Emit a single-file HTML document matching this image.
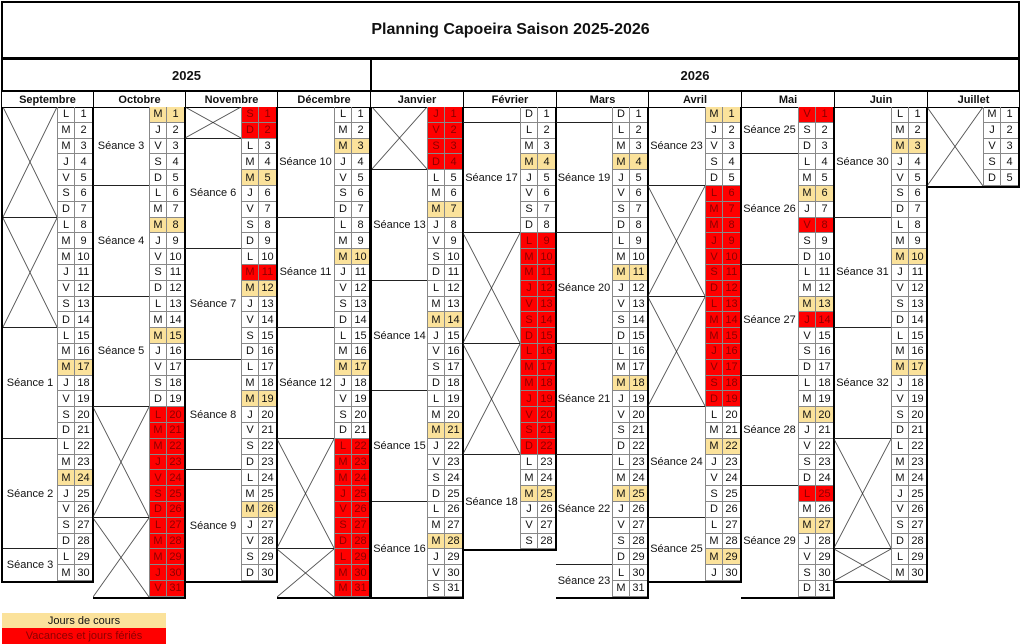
<!DOCTYPE html>
<html><head><meta charset="utf-8"><style>
body{margin:0;width:1024px;height:644px;background:#fff;position:relative;overflow:hidden;font-family:"Liberation Sans",sans-serif;color:#111}
.a{position:absolute;box-sizing:border-box}
.t{left:1px;top:1px;width:1019px;height:58px;border:2px solid #000;font-weight:bold;font-size:16px;display:flex;align-items:center;justify-content:center}
.yr{top:58px;height:34px;border:2px solid #000;font-weight:bold;font-size:13px;display:flex;align-items:center;justify-content:center}
.mh{top:91px;height:17px;border:1px solid #000;font-weight:bold;font-size:11px;display:flex;align-items:center;justify-content:center}
.m{top:107px;--h:15.8px;border-right:2px solid #000;border-bottom:2px solid #000}
.d{position:absolute;right:0;top:0;width:35px}
.d p{margin:0;height:var(--h);display:flex;box-sizing:border-box}
.d b{font-weight:normal;font-size:11px;box-sizing:border-box;height:100%;border-bottom:1px solid #888;border-left:1px solid #888;display:flex;align-items:center;justify-content:center;width:18px}
.d b:first-child{width:17px}
.d p.y b{background:#fbe29b}
.d p.r b{background:#f00;color:#8b0000}
.g{position:absolute;left:0;right:35px;box-sizing:border-box;border-bottom:1px solid #222;display:flex;align-items:center;justify-content:center;font-size:11px}
.x{background:linear-gradient(to top right,transparent calc(50% - 0.7px),#222 50%,transparent calc(50% + 0.7px)),linear-gradient(to bottom right,transparent calc(50% - 0.7px),#222 50%,transparent calc(50% + 0.7px))}
.lg{left:2px;width:164px;height:16px;font-size:11px;display:flex;align-items:center;justify-content:center}
</style></head><body>
<div class="a t">Planning Capoeira Saison 2025-2026</div>
<div class="a yr" style="left:1px;width:371px">2025</div>
<div class="a yr" style="left:370px;width:650px">2026</div>
<div class="a mh" style="left:1px;width:93px">Septembre</div>
<div class="a mh" style="left:93px;width:93px">Octobre</div>
<div class="a mh" style="left:185px;width:93px">Novembre</div>
<div class="a mh" style="left:277px;width:94px">Décembre</div>
<div class="a mh" style="left:370px;width:94px">Janvier</div>
<div class="a mh" style="left:463px;width:94px">Février</div>
<div class="a mh" style="left:556px;width:93px">Mars</div>
<div class="a mh" style="left:648px;width:94px">Avril</div>
<div class="a mh" style="left:741px;width:94px">Mai</div>
<div class="a mh" style="left:834px;width:94px">Juin</div>
<div class="a mh" style="left:927px;width:93px">Juillet</div>

<!-- Septembre -->
<div class="a m" style="left:1px;width:93px;height:calc(30*15.8px + 2px);border-left:2px solid #000">
<div class="g x" style="top:0;height:calc(7*var(--h))"></div>
<div class="g x" style="top:calc(7*var(--h));height:calc(7*var(--h))"></div>
<div class="g" style="top:calc(14*var(--h));height:calc(7*var(--h))">Séance 1</div>
<div class="g" style="top:calc(21*var(--h));height:calc(7*var(--h))">Séance 2</div>
<div class="g" style="top:calc(28*var(--h));height:calc(2*var(--h));border:0">Séance 3</div>
<div class="d">
<p><b>L</b><b>1</b></p><p><b>M</b><b>2</b></p><p><b>M</b><b>3</b></p><p><b>J</b><b>4</b></p><p><b>V</b><b>5</b></p><p><b>S</b><b>6</b></p><p><b>D</b><b>7</b></p>
<p><b>L</b><b>8</b></p><p><b>M</b><b>9</b></p><p><b>M</b><b>10</b></p><p><b>J</b><b>11</b></p><p><b>V</b><b>12</b></p><p><b>S</b><b>13</b></p><p><b>D</b><b>14</b></p>
<p><b>L</b><b>15</b></p><p><b>M</b><b>16</b></p><p class="y"><b>M</b><b>17</b></p><p><b>J</b><b>18</b></p><p><b>V</b><b>19</b></p><p><b>S</b><b>20</b></p><p><b>D</b><b>21</b></p>
<p><b>L</b><b>22</b></p><p><b>M</b><b>23</b></p><p class="y"><b>M</b><b>24</b></p><p><b>J</b><b>25</b></p><p><b>V</b><b>26</b></p><p><b>S</b><b>27</b></p><p><b>D</b><b>28</b></p>
<p><b>L</b><b>29</b></p><p><b>M</b><b>30</b></p>
</div></div>

<!-- Octobre -->
<div class="a m" style="left:93px;width:93px;height:calc(31*15.8px + 2px)">
<div class="g" style="top:0;height:calc(5*var(--h))">Séance 3</div>
<div class="g" style="top:calc(5*var(--h));height:calc(7*var(--h))">Séance 4</div>
<div class="g" style="top:calc(12*var(--h));height:calc(7*var(--h))">Séance 5</div>
<div class="g x" style="top:calc(19*var(--h));height:calc(7*var(--h))"></div>
<div class="g x" style="top:calc(26*var(--h));height:calc(5*var(--h));border:0"></div>
<div class="d">
<p class="y"><b>M</b><b>1</b></p><p><b>J</b><b>2</b></p><p><b>V</b><b>3</b></p><p><b>S</b><b>4</b></p><p><b>D</b><b>5</b></p>
<p><b>L</b><b>6</b></p><p><b>M</b><b>7</b></p><p class="y"><b>M</b><b>8</b></p><p><b>J</b><b>9</b></p><p><b>V</b><b>10</b></p><p><b>S</b><b>11</b></p><p><b>D</b><b>12</b></p>
<p><b>L</b><b>13</b></p><p><b>M</b><b>14</b></p><p class="y"><b>M</b><b>15</b></p><p><b>J</b><b>16</b></p><p><b>V</b><b>17</b></p><p><b>S</b><b>18</b></p><p><b>D</b><b>19</b></p>
<p class="r"><b>L</b><b>20</b></p><p class="r"><b>M</b><b>21</b></p><p class="r"><b>M</b><b>22</b></p><p class="r"><b>J</b><b>23</b></p><p class="r"><b>V</b><b>24</b></p><p class="r"><b>S</b><b>25</b></p><p class="r"><b>D</b><b>26</b></p>
<p class="r"><b>L</b><b>27</b></p><p class="r"><b>M</b><b>28</b></p><p class="r"><b>M</b><b>29</b></p><p class="r"><b>J</b><b>30</b></p><p class="r"><b>V</b><b>31</b></p>
</div></div>

<!-- Novembre -->
<div class="a m" style="left:185px;width:93px;height:calc(30*15.8px + 2px)">
<div class="g x" style="top:0;height:calc(2*var(--h))"></div>
<div class="g" style="top:calc(2*var(--h));height:calc(7*var(--h))">Séance 6</div>
<div class="g" style="top:calc(9*var(--h));height:calc(7*var(--h))">Séance 7</div>
<div class="g" style="top:calc(16*var(--h));height:calc(7*var(--h))">Séance 8</div>
<div class="g" style="top:calc(23*var(--h));height:calc(7*var(--h));border:0">Séance 9</div>
<div class="d">
<p class="r"><b>S</b><b>1</b></p><p class="r"><b>D</b><b>2</b></p>
<p><b>L</b><b>3</b></p><p><b>M</b><b>4</b></p><p class="y"><b>M</b><b>5</b></p><p><b>J</b><b>6</b></p><p><b>V</b><b>7</b></p><p><b>S</b><b>8</b></p><p><b>D</b><b>9</b></p>
<p><b>L</b><b>10</b></p><p class="r"><b>M</b><b>11</b></p><p class="y"><b>M</b><b>12</b></p><p><b>J</b><b>13</b></p><p><b>V</b><b>14</b></p><p><b>S</b><b>15</b></p><p><b>D</b><b>16</b></p>
<p><b>L</b><b>17</b></p><p><b>M</b><b>18</b></p><p class="y"><b>M</b><b>19</b></p><p><b>J</b><b>20</b></p><p><b>V</b><b>21</b></p><p><b>S</b><b>22</b></p><p><b>D</b><b>23</b></p>
<p><b>L</b><b>24</b></p><p><b>M</b><b>25</b></p><p class="y"><b>M</b><b>26</b></p><p><b>J</b><b>27</b></p><p><b>V</b><b>28</b></p><p><b>S</b><b>29</b></p><p><b>D</b><b>30</b></p>
</div></div>

<!-- Décembre -->
<div class="a m" style="left:277px;width:94px;height:calc(31*15.8px + 2px)">
<div class="g" style="top:0;height:calc(7*var(--h))">Séance 10</div>
<div class="g" style="top:calc(7*var(--h));height:calc(7*var(--h))">Séance 11</div>
<div class="g" style="top:calc(14*var(--h));height:calc(7*var(--h))">Séance 12</div>
<div class="g x" style="top:calc(21*var(--h));height:calc(7*var(--h))"></div>
<div class="g x" style="top:calc(28*var(--h));height:calc(3*var(--h));border:0"></div>
<div class="d">
<p><b>L</b><b>1</b></p><p><b>M</b><b>2</b></p><p class="y"><b>M</b><b>3</b></p><p><b>J</b><b>4</b></p><p><b>V</b><b>5</b></p><p><b>S</b><b>6</b></p><p><b>D</b><b>7</b></p>
<p><b>L</b><b>8</b></p><p><b>M</b><b>9</b></p><p class="y"><b>M</b><b>10</b></p><p><b>J</b><b>11</b></p><p><b>V</b><b>12</b></p><p><b>S</b><b>13</b></p><p><b>D</b><b>14</b></p>
<p><b>L</b><b>15</b></p><p><b>M</b><b>16</b></p><p class="y"><b>M</b><b>17</b></p><p><b>J</b><b>18</b></p><p><b>V</b><b>19</b></p><p><b>S</b><b>20</b></p><p><b>D</b><b>21</b></p>
<p class="r"><b>L</b><b>22</b></p><p class="r"><b>M</b><b>23</b></p><p class="r"><b>M</b><b>24</b></p><p class="r"><b>J</b><b>25</b></p><p class="r"><b>V</b><b>26</b></p><p class="r"><b>S</b><b>27</b></p><p class="r"><b>D</b><b>28</b></p>
<p class="r"><b>L</b><b>29</b></p><p class="r"><b>M</b><b>30</b></p><p class="r"><b>M</b><b>31</b></p>
</div></div>

<!-- Janvier -->
<div class="a m" style="left:370px;width:94px;height:calc(31*15.8px + 2px);border-left:2px solid #000">
<div class="g x" style="top:0;height:calc(4*var(--h))"></div>
<div class="g" style="top:calc(4*var(--h));height:calc(7*var(--h))">Séance 13</div>
<div class="g" style="top:calc(11*var(--h));height:calc(7*var(--h))">Séance 14</div>
<div class="g" style="top:calc(18*var(--h));height:calc(7*var(--h))">Séance 15</div>
<div class="g" style="top:calc(25*var(--h));height:calc(6*var(--h));border:0">Séance 16</div>
<div class="d">
<p class="r"><b>J</b><b>1</b></p><p class="r"><b>V</b><b>2</b></p><p class="r"><b>S</b><b>3</b></p><p class="r"><b>D</b><b>4</b></p>
<p><b>L</b><b>5</b></p><p><b>M</b><b>6</b></p><p class="y"><b>M</b><b>7</b></p><p><b>J</b><b>8</b></p><p><b>V</b><b>9</b></p><p><b>S</b><b>10</b></p><p><b>D</b><b>11</b></p>
<p><b>L</b><b>12</b></p><p><b>M</b><b>13</b></p><p class="y"><b>M</b><b>14</b></p><p><b>J</b><b>15</b></p><p><b>V</b><b>16</b></p><p><b>S</b><b>17</b></p><p><b>D</b><b>18</b></p>
<p><b>L</b><b>19</b></p><p><b>M</b><b>20</b></p><p class="y"><b>M</b><b>21</b></p><p><b>J</b><b>22</b></p><p><b>V</b><b>23</b></p><p><b>S</b><b>24</b></p><p><b>D</b><b>25</b></p>
<p><b>L</b><b>26</b></p><p><b>M</b><b>27</b></p><p class="y"><b>M</b><b>28</b></p><p><b>J</b><b>29</b></p><p><b>V</b><b>30</b></p><p><b>S</b><b>31</b></p>
</div></div>

<!-- Février -->
<div class="a m" style="left:463px;width:94px;height:calc(28*15.8px + 2px)">
<div class="g" style="top:0;height:calc(1*var(--h))"></div>
<div class="g" style="top:calc(1*var(--h));height:calc(7*var(--h))">Séance 17</div>
<div class="g x" style="top:calc(8*var(--h));height:calc(7*var(--h))"></div>
<div class="g x" style="top:calc(15*var(--h));height:calc(7*var(--h))"></div>
<div class="g" style="top:calc(22*var(--h));height:calc(6*var(--h));border:0">Séance 18</div>
<div class="d">
<p><b>D</b><b>1</b></p>
<p><b>L</b><b>2</b></p><p><b>M</b><b>3</b></p><p class="y"><b>M</b><b>4</b></p><p><b>J</b><b>5</b></p><p><b>V</b><b>6</b></p><p><b>S</b><b>7</b></p><p><b>D</b><b>8</b></p>
<p class="r"><b>L</b><b>9</b></p><p class="r"><b>M</b><b>10</b></p><p class="r"><b>M</b><b>11</b></p><p class="r"><b>J</b><b>12</b></p><p class="r"><b>V</b><b>13</b></p><p class="r"><b>S</b><b>14</b></p><p class="r"><b>D</b><b>15</b></p>
<p class="r"><b>L</b><b>16</b></p><p class="r"><b>M</b><b>17</b></p><p class="r"><b>M</b><b>18</b></p><p class="r"><b>J</b><b>19</b></p><p class="r"><b>V</b><b>20</b></p><p class="r"><b>S</b><b>21</b></p><p class="r"><b>D</b><b>22</b></p>
<p><b>L</b><b>23</b></p><p><b>M</b><b>24</b></p><p class="y"><b>M</b><b>25</b></p><p><b>J</b><b>26</b></p><p><b>V</b><b>27</b></p><p><b>S</b><b>28</b></p>
</div></div>

<!-- Mars -->
<div class="a m" style="left:556px;width:93px;height:calc(31*15.8px + 2px)">
<div class="g" style="top:0;height:calc(1*var(--h))"></div>
<div class="g" style="top:calc(1*var(--h));height:calc(7*var(--h))">Séance 19</div>
<div class="g" style="top:calc(8*var(--h));height:calc(7*var(--h))">Séance 20</div>
<div class="g" style="top:calc(15*var(--h));height:calc(7*var(--h))">Séance 21</div>
<div class="g" style="top:calc(22*var(--h));height:calc(7*var(--h))">Séance 22</div>
<div class="g" style="top:calc(29*var(--h));height:calc(2*var(--h));border:0">Séance 23</div>
<div class="d">
<p><b>D</b><b>1</b></p>
<p><b>L</b><b>2</b></p><p><b>M</b><b>3</b></p><p class="y"><b>M</b><b>4</b></p><p><b>J</b><b>5</b></p><p><b>V</b><b>6</b></p><p><b>S</b><b>7</b></p><p><b>D</b><b>8</b></p>
<p><b>L</b><b>9</b></p><p><b>M</b><b>10</b></p><p class="y"><b>M</b><b>11</b></p><p><b>J</b><b>12</b></p><p><b>V</b><b>13</b></p><p><b>S</b><b>14</b></p><p><b>D</b><b>15</b></p>
<p><b>L</b><b>16</b></p><p><b>M</b><b>17</b></p><p class="y"><b>M</b><b>18</b></p><p><b>J</b><b>19</b></p><p><b>V</b><b>20</b></p><p><b>S</b><b>21</b></p><p><b>D</b><b>22</b></p>
<p><b>L</b><b>23</b></p><p><b>M</b><b>24</b></p><p class="y"><b>M</b><b>25</b></p><p><b>J</b><b>26</b></p><p><b>V</b><b>27</b></p><p><b>S</b><b>28</b></p><p><b>D</b><b>29</b></p>
<p><b>L</b><b>30</b></p><p><b>M</b><b>31</b></p>
</div></div>

<!-- Avril -->
<div class="a m" style="left:648px;width:94px;height:calc(30*15.8px + 2px)">
<div class="g" style="top:0;height:calc(5*var(--h))">Séance 23</div>
<div class="g x" style="top:calc(5*var(--h));height:calc(7*var(--h))"></div>
<div class="g x" style="top:calc(12*var(--h));height:calc(7*var(--h))"></div>
<div class="g" style="top:calc(19*var(--h));height:calc(7*var(--h))">Séance 24</div>
<div class="g" style="top:calc(26*var(--h));height:calc(4*var(--h));border:0">Séance 25</div>
<div class="d">
<p class="y"><b>M</b><b>1</b></p><p><b>J</b><b>2</b></p><p><b>V</b><b>3</b></p><p><b>S</b><b>4</b></p><p><b>D</b><b>5</b></p>
<p class="r"><b>L</b><b>6</b></p><p class="r"><b>M</b><b>7</b></p><p class="r"><b>M</b><b>8</b></p><p class="r"><b>J</b><b>9</b></p><p class="r"><b>V</b><b>10</b></p><p class="r"><b>S</b><b>11</b></p><p class="r"><b>D</b><b>12</b></p>
<p class="r"><b>L</b><b>13</b></p><p class="r"><b>M</b><b>14</b></p><p class="r"><b>M</b><b>15</b></p><p class="r"><b>J</b><b>16</b></p><p class="r"><b>V</b><b>17</b></p><p class="r"><b>S</b><b>18</b></p><p class="r"><b>D</b><b>19</b></p>
<p><b>L</b><b>20</b></p><p><b>M</b><b>21</b></p><p class="y"><b>M</b><b>22</b></p><p><b>J</b><b>23</b></p><p><b>V</b><b>24</b></p><p><b>S</b><b>25</b></p><p><b>D</b><b>26</b></p>
<p><b>L</b><b>27</b></p><p><b>M</b><b>28</b></p><p class="y"><b>M</b><b>29</b></p><p><b>J</b><b>30</b></p>
</div></div>

<!-- Mai -->
<div class="a m" style="left:741px;width:94px;height:calc(31*15.8px + 2px)">
<div class="g" style="top:0;height:calc(3*var(--h))">Séance 25</div>
<div class="g" style="top:calc(3*var(--h));height:calc(7*var(--h))">Séance 26</div>
<div class="g" style="top:calc(10*var(--h));height:calc(7*var(--h))">Séance 27</div>
<div class="g" style="top:calc(17*var(--h));height:calc(7*var(--h))">Séance 28</div>
<div class="g" style="top:calc(24*var(--h));height:calc(7*var(--h));border:0">Séance 29</div>
<div class="d">
<p class="r"><b>V</b><b>1</b></p><p><b>S</b><b>2</b></p><p><b>D</b><b>3</b></p>
<p><b>L</b><b>4</b></p><p><b>M</b><b>5</b></p><p class="y"><b>M</b><b>6</b></p><p><b>J</b><b>7</b></p><p class="r"><b>V</b><b>8</b></p><p><b>S</b><b>9</b></p><p><b>D</b><b>10</b></p>
<p><b>L</b><b>11</b></p><p><b>M</b><b>12</b></p><p class="y"><b>M</b><b>13</b></p><p class="r"><b>J</b><b>14</b></p><p><b>V</b><b>15</b></p><p><b>S</b><b>16</b></p><p><b>D</b><b>17</b></p>
<p><b>L</b><b>18</b></p><p><b>M</b><b>19</b></p><p class="y"><b>M</b><b>20</b></p><p><b>J</b><b>21</b></p><p><b>V</b><b>22</b></p><p><b>S</b><b>23</b></p><p><b>D</b><b>24</b></p>
<p class="r"><b>L</b><b>25</b></p><p><b>M</b><b>26</b></p><p class="y"><b>M</b><b>27</b></p><p><b>J</b><b>28</b></p><p><b>V</b><b>29</b></p><p><b>S</b><b>30</b></p><p><b>D</b><b>31</b></p>
</div></div>

<!-- Juin -->
<div class="a m" style="left:834px;width:94px;height:calc(30*15.8px + 2px)">
<div class="g" style="top:0;height:calc(7*var(--h))">Séance 30</div>
<div class="g" style="top:calc(7*var(--h));height:calc(7*var(--h))">Séance 31</div>
<div class="g" style="top:calc(14*var(--h));height:calc(7*var(--h))">Séance 32</div>
<div class="g x" style="top:calc(21*var(--h));height:calc(7*var(--h))"></div>
<div class="g x" style="top:calc(28*var(--h));height:calc(2*var(--h));border:0"></div>
<div class="d">
<p><b>L</b><b>1</b></p><p><b>M</b><b>2</b></p><p class="y"><b>M</b><b>3</b></p><p><b>J</b><b>4</b></p><p><b>V</b><b>5</b></p><p><b>S</b><b>6</b></p><p><b>D</b><b>7</b></p>
<p><b>L</b><b>8</b></p><p><b>M</b><b>9</b></p><p class="y"><b>M</b><b>10</b></p><p><b>J</b><b>11</b></p><p><b>V</b><b>12</b></p><p><b>S</b><b>13</b></p><p><b>D</b><b>14</b></p>
<p><b>L</b><b>15</b></p><p><b>M</b><b>16</b></p><p class="y"><b>M</b><b>17</b></p><p><b>J</b><b>18</b></p><p><b>V</b><b>19</b></p><p><b>S</b><b>20</b></p><p><b>D</b><b>21</b></p>
<p><b>L</b><b>22</b></p><p><b>M</b><b>23</b></p><p><b>M</b><b>24</b></p><p><b>J</b><b>25</b></p><p><b>V</b><b>26</b></p><p><b>S</b><b>27</b></p><p><b>D</b><b>28</b></p>
<p><b>L</b><b>29</b></p><p><b>M</b><b>30</b></p>
</div></div>

<!-- Juillet -->
<div class="a m" style="left:927px;width:93px;height:calc(5*15.8px + 2px)">
<div class="g x" style="top:0;height:calc(5*var(--h));border:0"></div>
<div class="d">
<p><b>M</b><b>1</b></p><p><b>J</b><b>2</b></p><p><b>V</b><b>3</b></p><p><b>S</b><b>4</b></p><p><b>D</b><b>5</b></p>
</div></div>

<div class="a lg" style="top:613px;background:#fbe29b">Jours de cours</div>
<div class="a lg" style="top:628px;background:#f00;color:#8b0000">Vacances et jours fériés</div>
</body></html>
